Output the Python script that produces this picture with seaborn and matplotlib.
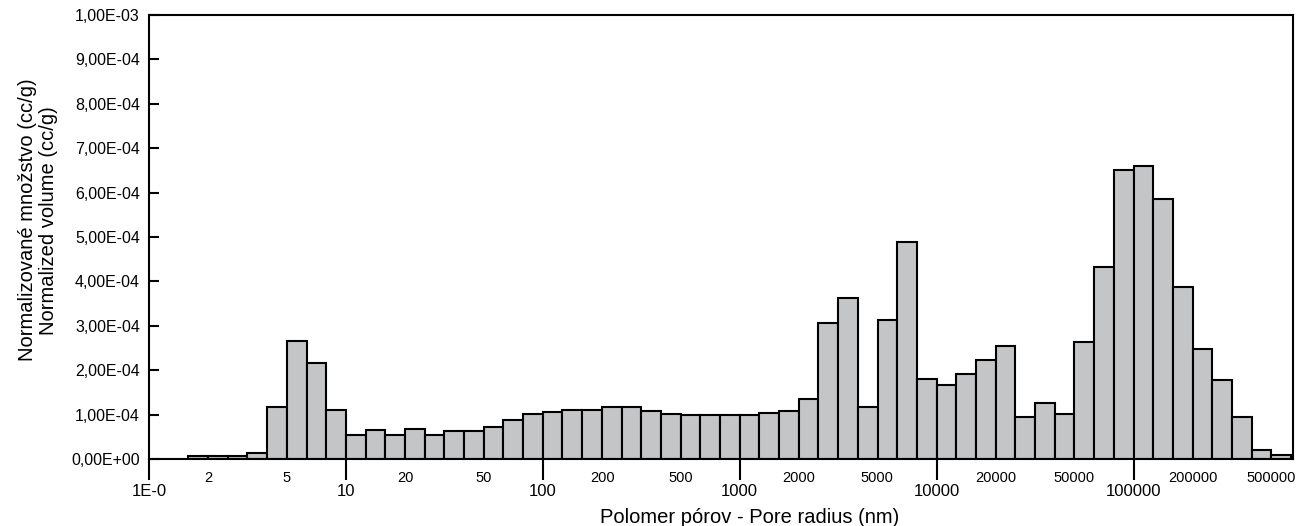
import numpy as np
import pandas as pd
import matplotlib
matplotlib.use("Agg")
import matplotlib.pyplot as plt
import seaborn as sns
from matplotlib.ticker import FixedLocator, FixedFormatter, FuncFormatter

# normalized volume per log bin, in units of 1e-4 cc/g (bins are 0.1 decade wide, 10^0.2 .. 10^5.8 nm)
volume_e4 = [0.07, 0.07, 0.07, 0.14, 1.16, 2.66, 2.17, 1.10,
             0.54, 0.65, 0.53, 0.68, 0.53, 0.62, 0.62, 0.73, 0.87, 1.02,
             1.06, 1.10, 1.11, 1.16, 1.16, 1.09, 1.02, 0.98, 0.98, 0.98,
             0.98, 1.03, 1.07, 1.36, 3.06, 3.62, 1.16, 3.14, 4.89, 1.80,
             1.67, 1.92, 2.24, 2.55, 0.95, 1.27, 1.01, 2.64, 4.33, 6.52,
             6.61, 5.86, 3.87, 2.48, 1.78, 0.95, 0.20, 0.08]

major_ticks = [1, 10, 100, 1000, 10000, 100000]
major_labels = ["1E-0", "10", "100", "1000", "10000", "100000"]
minor_ticks = [2, 5, 20, 50, 200, 500, 2000, 5000, 20000, 50000, 200000, 500000]
minor_labels = ["2", "5", "20", "50", "200", "500", "2000", "5000",
                "20000", "50000", "200000", "500000"]

bin_edges = np.logspace(0.2, 5.8, 57)
radius = np.sqrt(bin_edges[:-1] * bin_edges[1:])
df = pd.DataFrame({"radius": radius, "volume": np.array(volume_e4) * 1e-4})

sns.set_style("ticks")
plt.rcParams['font.family'] = ['Liberation Sans', 'DejaVu Sans']
for key in ["text.color", "axes.labelcolor", "xtick.color", "ytick.color"]:
    plt.rcParams[key] = "black"

fig = plt.figure(figsize=(12.99, 5.26), dpi=100)
ax = fig.add_axes([149 / 1299, 1 - 459 / 526, (1293 - 149) / 1299, (459 - 15) / 526])

sns.histplot(data=df, x="radius", weights="volume", bins=bin_edges.tolist(), ax=ax,
             color="#c3c5c6", edgecolor="black", linewidth=1.5, alpha=1)
ax.set_xscale("log")
ax.set_xlim(1, 10 ** 5.81)
ax.set_ylim(0, 1e-3)

ax.xaxis.set_major_locator(FixedLocator(major_ticks))
ax.xaxis.set_major_formatter(FixedFormatter(major_labels))
ax.xaxis.set_minor_locator(FixedLocator(minor_ticks))
ax.xaxis.set_minor_formatter(FixedFormatter(minor_labels))
ax.set_yticks(np.arange(0, 11) * 1e-4)
ax.yaxis.set_major_formatter(FuncFormatter(lambda v, p: f"{v:.2E}".replace(".", ",")))

ax.tick_params(axis="x", which="major", direction="out", length=15, width=1.5, pad=3, labelsize=12)
ax.tick_params(axis="x", which="minor", length=0, pad=9, labelsize=10.5)
ax.tick_params(axis="y", direction="in", length=7, width=1.5, pad=6.5, labelsize=11.5)

for s in ax.spines.values():
    s.set_linewidth(1.5)
    s.set_color("black")

ax.set_ylabel("Normalizované množstvo (cc/g)\nNormalized volume (cc/g)", fontsize=14.5, linespacing=1.15)
ax.yaxis.set_label_coords(-0.0795, 0.538)
ax.set_xlabel("Polomer pórov - Pore radius (nm)", fontsize=14.5)
ax.xaxis.set_label_coords(0.525, -0.110)

fig.savefig("out.png", dpi=100)
